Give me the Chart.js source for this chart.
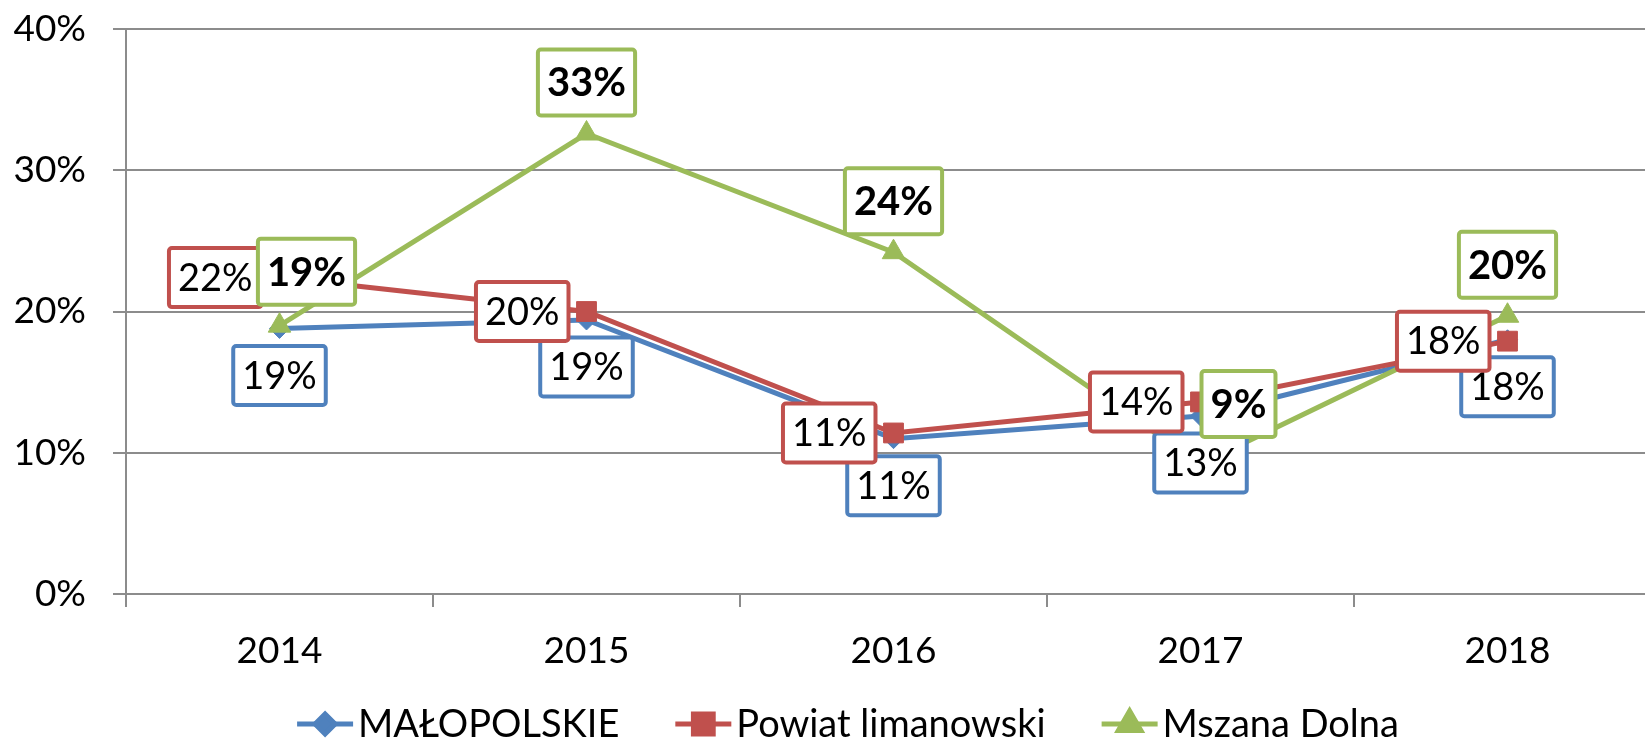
<!DOCTYPE html>
<html>
<head>
<meta charset="utf-8">
<script src="https://cdn.jsdelivr.net/npm/chart.js@4.4.0/dist/chart.umd.min.js"></script>
<style>
  html, body { margin: 0; padding: 0; background: #fff; overflow: hidden; }
  canvas { display: block; }
</style>
</head>
<body>
<canvas id="trend_chart" width="1700" height="740"></canvas>
<script>
let years = ['2014', '2015', '2016', '2017', '2018'];
let seriesNames = ['MAŁOPOLSKIE', 'Powiat limanowski', 'Mszana Dolna'];
let malopolskie = [18.8, 19.4, 11.0, 12.6, 18.0];
let powiat = [22.4, 20.0, 11.4, 13.6, 17.9];
let mszana = [19.0, 32.6, 24.2, 9.2, 19.7];
let yTicks = [0, 10, 20, 30, 40];

// hand-placed nudges for the Mszana Dolna boxes that would overlap
let mszanaShift = [[27, -3], [0, 0], [0, 0], [38, -9], [0, 0]];

let gridColor = '#8c8c8c';
let fontFamily = 'Lato, "Open Sans", sans-serif';
let fontSize = 37;

// label box per series: where it sits next to its point
let labelStyle = [
    { position: 'below', gap: 47, bold: false, size: 38, padX: 9, height: 59 },
    { position: 'left', gap: 18, bold: false, size: 38, padX: 9, height: 59 },
    { position: 'above', gap: 51, bold: true, size: 40, padX: 9, height: 66, shift: mszanaShift }
];

const boxLabels = {
    id: 'boxLabels',
    afterDatasetsDraw(chart) {
        let ctx = chart.ctx;
        chart.data.datasets.forEach(function(ds, di) {
            let meta = chart.getDatasetMeta(di);
            let st = labelStyle[di];
            ctx.save();
            ctx.font = (st.bold ? 'bold ' : '') + st.size + 'px ' + fontFamily;
            meta.data.forEach(function(pt, i) {
                let text = Math.round(ds.data[i]) + '%';
                let w = ctx.measureText(text).width + 2 * st.padX;
                let h = st.height;
                let cx = pt.x, cy = pt.y;
                if (st.position === 'below') cy += st.gap;
                else if (st.position === 'above') cy -= st.gap;
                else if (st.position === 'left') cx -= st.gap + w / 2;
                if (st.shift) {
                    cx += st.shift[i][0];
                    cy += st.shift[i][1];
                }
                ctx.beginPath();
                if (ctx.roundRect) ctx.roundRect(cx - w / 2, cy - h / 2, w, h, 3);
                else ctx.rect(cx - w / 2, cy - h / 2, w, h);
                ctx.fillStyle = '#fff';
                ctx.fill();
                ctx.lineWidth = 4;
                ctx.strokeStyle = ds.borderColor;
                ctx.stroke();
                ctx.fillStyle = '#000';
                ctx.textAlign = 'center';
                ctx.textBaseline = 'middle';
                ctx.fillText(text, cx, cy + 1);
            });
            ctx.restore();
        });
    }
};

// legend under the axis: short line with the marker, then the name
const bottomLegend = {
    id: 'bottomLegend',
    afterDraw(chart) {
        let ctx = chart.ctx;
        let sets = chart.data.datasets;
        let lineW = 56, textGap = 5, itemGap = 56;
        let centerX = 848, y = 724;
        ctx.save();
        ctx.font = '38px ' + fontFamily;
        let widths = sets.map(ds => lineW + textGap + ctx.measureText(ds.label).width);
        let total = widths.reduce((a, b) => a + b, 0) + itemGap * (sets.length - 1);
        let x = centerX - total / 2;
        sets.forEach(function(ds, i) {
            ctx.strokeStyle = ds.borderColor;
            ctx.lineWidth = 5;
            ctx.beginPath();
            ctx.moveTo(x, y);
            ctx.lineTo(x + lineW, y);
            ctx.stroke();
            ctx.fillStyle = ds.pointBackgroundColor;
            ctx.strokeStyle = ds.pointBackgroundColor;
            Chart.helpers.drawPoint(ctx, { pointStyle: ds.pointStyle, radius: ds.pointRadius, borderWidth: 1, rotation: 0 }, x + lineW / 2, y);
            ctx.fillStyle = '#000';
            ctx.textAlign = 'left';
            ctx.textBaseline = 'middle';
            ctx.fillText(ds.label, x + lineW + textGap, y + 1);
            x += widths[i] + itemGap;
        });
        ctx.restore();
    }
};

function lineSet(label, data, color, style, radius, order) {
    return {
        label: label,
        data: data,
        borderColor: color,
        backgroundColor: color,
        pointBackgroundColor: color,
        pointBorderColor: color,
        pointBorderWidth: 1,
        pointStyle: style,
        pointRadius: radius,
        borderWidth: 5,
        tension: 0,
        fill: false,
        order: order
    };
}

let ctx = document.getElementById('trend_chart').getContext('2d');
window.trend_chart = new Chart(ctx, {
    type: 'line',
    data: {
        labels: years,
        datasets: [
            lineSet(seriesNames[0], malopolskie, '#4F81BD', 'rectRot', 10, 3),
            lineSet(seriesNames[1], powiat, '#C0504D', 'rect', 14, 2),
            lineSet(seriesNames[2], mszana, '#9BBB59', 'triangle', 13, 1)
        ]
    },
    options: {
        responsive: false,
        animation: false,
        events: [],
        layout: { padding: { top: 29, right: 39, bottom: 60, left: 0 } },
        plugins: {
            legend: { display: false },
            tooltip: { enabled: false }
        },
        scales: {
            x: {
                offset: true,
                grid: { drawOnChartArea: false, drawTicks: true, tickLength: 13, color: gridColor, lineWidth: 2, offset: true },
                border: { color: gridColor, width: 2 },
                ticks: { color: '#000', font: { family: fontFamily, size: fontSize }, padding: 22, maxRotation: 0, autoSkip: false },
                afterFit: function(scale) { scale.height = 86; }
            },
            y: {
                min: 0,
                max: 40,
                afterBuildTicks: function(scale) { scale.ticks = yTicks.map(v => ({ value: v })); },
                grid: { color: gridColor, lineWidth: 2, tickLength: 13 },
                border: { color: gridColor, width: 2 },
                ticks: { color: '#000', font: { family: fontFamily, size: fontSize }, padding: 27, callback: v => v + '%' },
                afterFit: function(scale) {
                    scale.width = 126;
                    // the top label may poke above the plot; padding.top already leaves room
                    scale.paddingTop = 0;
                    scale.paddingBottom = 0;
                }
            }
        }
    },
    plugins: [boxLabels, bottomLegend]
});
</script>
</body>
</html>
